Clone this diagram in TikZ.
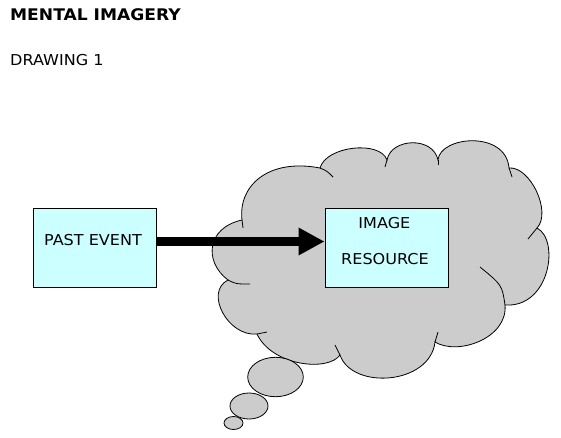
\documentclass[tikz,border=0pt]{standalone}
\usepackage{fontspec}
\setmainfont{DejaVu Sans}[FakeStretch=1.07]
\usetikzlibrary{arrows.meta}
\definecolor{boxfill}{HTML}{CCFFFF}
\definecolor{cloudfill}{HTML}{CCCCCC}
\begin{document}
\begin{tikzpicture}[x=1pt,y=-1pt,
  titletext/.style={anchor=west,inner sep=0pt,font=\fontsize{16}{19}\selectfont\bfseries},
  bodytext/.style={inner sep=0pt,font=\fontsize{15}{18}\selectfont},
  boxnode/.style={draw=black,line width=1pt,fill=boxfill,minimum width=123pt,minimum height=79pt,inner sep=0pt},
  cloudline/.style={draw=black,line width=0.8pt},
  bubble/.style={draw=black,line width=0.8pt,fill=cloudfill}]
\useasboundingbox (0,0) rectangle (561,437);
% cloud
\path[cloudline,fill=cloudfill]
  (228,280) .. controls (204,262) and (206,228) .. (242,220)
  .. controls (238,186) and (268,158) .. (320,168)
  .. controls (326,146) and (380,140) .. (387,160)
  .. controls (391,138) and (433,136) .. (438,160)
  .. controls (440,136) and (506,130) .. (509,168)
  .. controls (530,166) and (552,212) .. (537,228)
  .. controls (560,240) and (550,308) .. (505,305)
  .. controls (508,338) and (458,356) .. (435,342)
  .. controls (430,385) and (352,390) .. (340,355)
  .. controls (328,372) and (272,366) .. (257,334)
  .. controls (228,337) and (204,292) .. (228,280) -- cycle;
\draw[cloudline] (228,280) .. controls (236,284) .. (250,284);
\draw[cloudline] (242,220) -- (243,228);
\draw[cloudline] (320,168) .. controls (327,171) .. (333,177);
\draw[cloudline] (387,160) -- (385,167);
\draw[cloudline] (438,160) -- (438,165);
\draw[cloudline] (509,168) -- (512,177);
\draw[cloudline] (537,228) -- (528,239);
\draw[cloudline] (505,305) .. controls (502,285) .. (480,267);
\draw[cloudline] (435,342) -- (438,332);
\draw[cloudline] (340,355) -- (335,345);
\draw[cloudline] (257,334) -- (267,332);
% thought bubbles
\path[bubble] (275.5,377) ellipse [x radius=27.8, y radius=19.7];
\path[bubble] (249,406) ellipse [x radius=19, y radius=13];
\path[bubble] (233.5,423) ellipse [x radius=9.5, y radius=6.5];
% titles
\node[titletext] (title) at (10,14.8) {MENTAL IMAGERY};
\node[bodytext,anchor=west] (sub) at (10,60) {DRAWING 1};
% boxes
\node[boxnode] (pe) at (94.5,247.5) {};
\node[boxnode] (ir) at (386.5,247.5) {};
\node[bodytext] (pet) at (93,240) {PAST EVENT};
\node[bodytext] (img) at (384.4,222.8) {IMAGE};
\node[bodytext] (res) at (385,258.8) {RESOURCE};
% arrow
\draw[line width=9pt,-{Triangle[length=26pt,width=26pt]}]
  ([yshift=6pt]pe.east) -- ([yshift=6pt]pe.east -| ir.west);
\end{tikzpicture}
\end{document}
